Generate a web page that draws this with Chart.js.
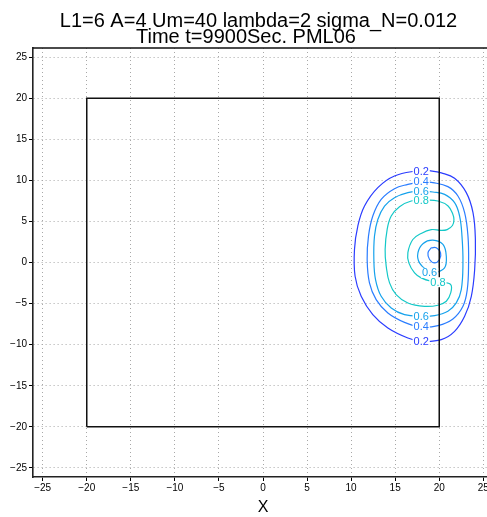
<!DOCTYPE html>
<html>
<head>
<meta charset="utf-8">
<script src="https://cdn.jsdelivr.net/npm/chart.js@4.4.1/dist/chart.umd.min.js"></script>
<style>
  html, body { margin: 0; padding: 0; background: #fff; overflow: hidden; }
  canvas { display: block; }
</style>
</head>
<body>
<canvas id="chart" width="493" height="517"></canvas>
<script>
// title lines
const titleLine1 = "L1=6 A=4 Um=40 lambda=2 sigma_N=0.012";
const titleLine2 = "Time t=9900Sec. PML06";
const xTitle = "X";

// axis ticks
const tickValues = [-25, -20, -15, -10, -5, 0, 5, 10, 15, 20, 25];

// the square domain
const boxX = [-20, 20, 20, -20, -20];
const boxY = [-20, -20, 20, 20, -20];

// contour levels and colours
const levels = [0.2, 0.4, 0.6, 0.8];
const levelColors = ['#2a3cff', '#2a7dff', '#16a2ec', '#14c8c8'];

// contour lines
const c02x = [17.95, 14.92, 13.03, 11.52, 10.76, 10.38, 10.45, 11.14, 12.46, 14.17, 16.44, 17.95, 20.23, 21.74, 22.88, 23.64, 24.02, 24.10, 23.83, 23.07, 21.74, 20.23, 18.90, 17.95];
const c02y = [11.26, 10.53, 9.11, 6.87, 4.43, 1.59, -1.67, -4.11, -6.34, -7.97, -9.19, -9.59, -9.39, -8.38, -6.55, -4.11, -0.85, 2.80, 6.06, 8.50, 10.25, 10.90, 11.17, 11.26];

const c04x = [17.95, 16.44, 14.92, 13.41, 12.46, 11.97, 11.82, 12.08, 12.84, 14.17, 16.06, 17.95, 19.85, 21.55, 22.69, 23.18, 23.33, 23.26, 22.88, 22.12, 20.98, 19.28, 17.95];
const c04y = [9.84, 9.51, 8.98, 7.68, 5.65, 3.21, 0.37, -2.48, -4.51, -6.14, -7.28, -7.85, -7.68, -6.87, -5.33, -3.29, -0.04, 3.21, 6.06, 8.09, 9.23, 9.72, 9.84];

const c06x = [17.95, 16.44, 14.92, 13.79, 13.03, 12.65, 12.58, 12.77, 13.41, 14.55, 16.06, 17.95, 19.47, 20.98, 21.93, 22.50, 22.69, 22.58, 22.31, 21.74, 20.61, 19.28, 17.95];
const c06y = [8.70, 8.50, 7.89, 6.87, 5.24, 3.21, 0.37, -2.07, -4.11, -5.53, -6.34, -6.54, -6.46, -5.93, -4.92, -3.29, -0.04, 3.21, 5.65, 7.28, 8.29, 8.58, 8.70];

const c08x = [18.33, 16.82, 15.49, 14.55, 14.09, 13.86, 13.98, 14.36, 15.11, 16.44, 18.33, 19.85, 20.80, 21.30, 21.30, 20.23, 19.09, 17.95, 17.20, 16.55, 16.44, 17.00, 17.95, 19.10, 20.20, 20.90, 21.50, 21.67, 21.55, 21.00, 19.85, 18.33];
const c08y = [7.60, 7.48, 6.79, 5.65, 4.02, 1.59, -0.45, -2.48, -3.90, -4.92, -5.33, -5.20, -4.72, -3.70, -2.68, -2.40, -2.28, -1.87, -1.26, -0.04, 1.20, 2.80, 3.54, 4.00, 3.90, 4.00, 4.50, 5.20, 5.85, 6.87, 7.48, 7.60];

const in06x = [18.90, 17.76, 17.58, 18.18, 19.28, 20.42, 20.80, 20.60, 19.43, 18.90];
const in06y = [-1.26, -0.04, 1.18, 2.32, 2.72, 2.20, 0.77, -0.65, -1.28, -1.26];

const in04x = [19.09, 18.72, 18.90, 19.47, 20.03, 20.15, 19.66, 19.09];
const in04y = [1.79, 1.18, 0.37, -0.04, 0.37, 1.18, 1.79, 1.79];

// contour labels
const labelLevel = [0.2, 0.4, 0.6, 0.8, 0.6, 0.4, 0.2, 0.6, 0.8];
const labelX = [17.95, 17.95, 17.95, 17.95, 17.95, 17.95, 17.95, 18.9, 19.85];
const labelY = [11.13, 9.84, 8.70, 7.60, -6.55, -7.84, -9.60, -1.26, -2.40];

const FONT = '"Liberation Sans", Arial, Helvetica, sans-serif';

function toPoints(xs, ys) {
    return xs.map((x, i) => ({ x: x, y: ys[i] }));
}

function colorFor(level) {
    return levelColors[levels.indexOf(level)];
}

function contourSet(xs, ys, level) {
    return {
        data: toPoints(xs, ys),
        showLine: true,
        borderColor: colorFor(level),
        borderWidth: 1.2,
        pointRadius: 0,
        tension: 0.4,
        fill: false
    };
}

function fmtTick(v) {
    return v < 0 ? '\u2212' + Math.abs(v) : String(v);
}

// title, top frame line and contour labels
const extrasPlugin = {
    id: 'extras',
    afterDatasetsDraw(chart) {
        const ctx = chart.ctx;
        const xs = chart.scales.x, ys = chart.scales.y;
        ctx.save();
        ctx.font = '11px ' + FONT;
        ctx.textAlign = 'center';
        ctx.textBaseline = 'middle';
        labelLevel.forEach((lv, i) => {
            const px = xs.getPixelForValue(labelX[i]);
            const py = ys.getPixelForValue(labelY[i]);
            const txt = lv.toFixed(1);
            const w = ctx.measureText(txt).width;
            ctx.fillStyle = '#fff';
            ctx.fillRect(px - w / 2 - 1, py - 5, w + 2, 10);
            ctx.fillStyle = colorFor(lv);
            ctx.fillText(txt, px, py + 0.5);
        });
        ctx.restore();
    },
    afterDraw(chart) {
        const ctx = chart.ctx;
        const a = chart.chartArea;
        ctx.save();
        ctx.strokeStyle = '#111';
        ctx.lineWidth = 1.5;
        ctx.beginPath();
        ctx.moveTo(a.left, a.top);
        ctx.lineTo(a.right, a.top);
        ctx.lineTo(a.right, a.bottom);
        ctx.stroke();
        ctx.fillStyle = '#000';
        ctx.font = '20px ' + FONT;
        ctx.textAlign = 'center';
        ctx.textBaseline = 'alphabetic';
        ctx.fillText(titleLine1, 258.5, 26.5);
        ctx.fillText(titleLine2, 246, 43);
        ctx.restore();
    }
};

const gridOpts = {
    color: '#a8a8a8',
    lineWidth: 1,
    tickLength: 4,
    tickColor: '#000',
    tickWidth: 1,
    tickBorderDash: []
};

const borderOpts = { color: '#222', width: 1.6, dash: [1, 3] };

new Chart(document.getElementById('chart').getContext('2d'), {
    type: 'scatter',
    data: {
        datasets: [
            { data: toPoints(boxX, boxY), showLine: true, borderColor: '#111', borderWidth: 1.5, pointRadius: 0, tension: 0 },
            contourSet(c02x, c02y, 0.2),
            contourSet(c04x, c04y, 0.4),
            contourSet(c06x, c06y, 0.6),
            contourSet(c08x, c08y, 0.8),
            contourSet(in06x, in06y, 0.6),
            contourSet(in04x, in04y, 0.4)
        ]
    },
    options: {
        responsive: false,
        animation: false,
        layout: { padding: { top: 48, left: 0, right: 0, bottom: 0 } },
        plugins: { legend: { display: false }, tooltip: { enabled: false } },
        scales: {
            x: {
                type: 'linear',
                min: -26.1,
                max: 26.1,
                afterBuildTicks: s => { s.ticks = tickValues.map(v => ({ value: v })); },
                afterFit: s => { s.height = 40; },
                ticks: { callback: fmtTick, color: '#000', font: { family: FONT, size: 10 }, padding: 1, maxRotation: 0, autoSkip: false },
                grid: gridOpts,
                border: borderOpts,
                title: { display: true, text: xTitle, color: '#000', font: { family: FONT, size: 16 }, padding: 0 }
            },
            y: {
                type: 'linear',
                min: -26.1,
                max: 26.1,
                afterBuildTicks: s => { s.ticks = tickValues.map(v => ({ value: v })); },
                afterFit: s => { s.width = 33; },
                ticks: { callback: fmtTick, color: '#000', font: { family: FONT, size: 10 }, padding: 2, autoSkip: false },
                grid: gridOpts,
                border: borderOpts
            }
        }
    },
    plugins: [extrasPlugin]
});
</script>
</body>
</html>
